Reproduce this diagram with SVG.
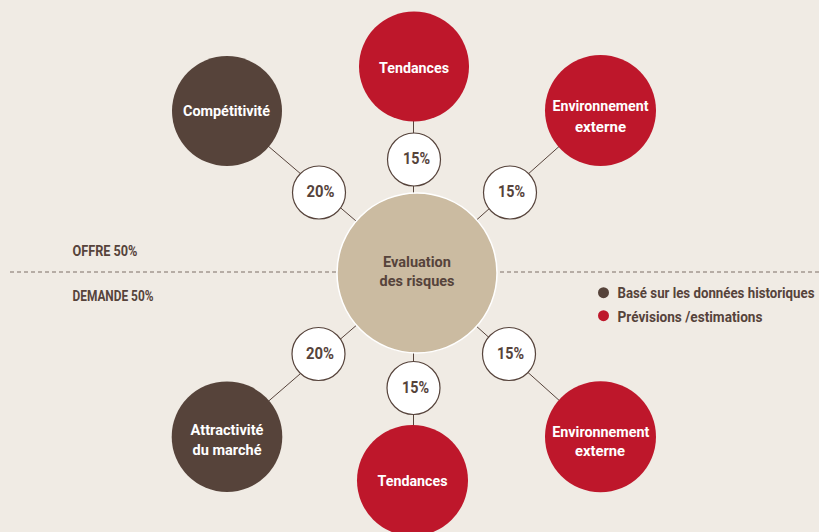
<svg xmlns="http://www.w3.org/2000/svg" width="819" height="532" viewBox="0 0 819 532">
<style>
text{font-family:Roboto,"Liberation Sans",sans-serif;font-weight:bold}
.w{fill:#ffffff;font-size:15px;text-anchor:middle}
.d{fill:#56433b;font-size:15px}
.c{fill:#56433b;font-size:15.5px;text-anchor:middle}
.p{fill:#56433b;font-size:16px;text-anchor:middle}
.brown{fill:#56433a}
.red{fill:#be172b}
.pc{fill:#ffffff;stroke:#56433b;stroke-width:1.2}
.ln{stroke:#56433b;stroke-width:1;fill:none}
</style>
<rect width="819" height="532" fill="#f0ebe4"/>
<line x1="10" y1="272" x2="819" y2="272" stroke="#7d6e67" stroke-width="1" stroke-dasharray="4,3"/>
<g id="connectors">
<line class="ln" x1="413.5" y1="120" x2="413.5" y2="200"/>
<line class="ln" x1="413.5" y1="345" x2="413.5" y2="426"/>
<line class="ln" x1="227" y1="111" x2="417" y2="273"/>
<line class="ln" x1="600" y1="110" x2="417" y2="273"/>
<line class="ln" x1="227" y1="437" x2="417" y2="273"/>
<line class="ln" x1="600" y1="437" x2="417" y2="273"/>
</g>
<g id="center"><circle cx="417" cy="273" r="80" fill="#cbbba1" stroke="#ffffff" stroke-width="1.5"/>
<text class="c" x="417" y="266.5" textLength="68" lengthAdjust="spacingAndGlyphs">Evaluation</text>
<text class="c" x="417" y="286" textLength="75" lengthAdjust="spacingAndGlyphs">des risques</text></g>
<g id="tendances-top"><circle class="red" cx="414" cy="66.5" r="55"/><text class="w" x="414" y="72.5" textLength="70" lengthAdjust="spacingAndGlyphs">Tendances</text></g>
<g id="competitivite"><circle class="brown" cx="227" cy="111" r="55"/><text class="w" x="226.5" y="116" textLength="87" lengthAdjust="spacingAndGlyphs">Compétitivité</text></g>
<g id="env-top"><circle class="red" cx="600.5" cy="110.5" r="55.5"/><text class="w" x="600.5" y="111" textLength="96" lengthAdjust="spacingAndGlyphs">Environnement</text><text class="w" x="600.5" y="131.5" textLength="51" lengthAdjust="spacingAndGlyphs">externe</text></g>
<g id="attractivite"><circle class="brown" cx="227" cy="436.7" r="55.3"/><text class="w" x="227" y="435" textLength="73" lengthAdjust="spacingAndGlyphs">Attractivité</text><text class="w" x="227" y="455" textLength="69" lengthAdjust="spacingAndGlyphs">du marché</text></g>
<g id="tendances-bottom"><circle class="red" cx="412.5" cy="480.5" r="55.5"/><text class="w" x="412.5" y="485.7" textLength="70" lengthAdjust="spacingAndGlyphs">Tendances</text></g>
<g id="env-bottom"><circle class="red" cx="600.5" cy="436.7" r="55.5"/><text class="w" x="600.8" y="437.3" textLength="97" lengthAdjust="spacingAndGlyphs">Environnement</text><text class="w" x="600" y="456" textLength="50" lengthAdjust="spacingAndGlyphs">externe</text></g>
<g id="p-top"><circle class="pc" cx="414" cy="159.5" r="26.5"/><text class="p" x="416.5" y="164.3" textLength="27" lengthAdjust="spacingAndGlyphs">15%</text></g>
<g id="p-topleft"><circle class="pc" cx="319" cy="192.5" r="26.5"/><text class="p" x="320.5" y="197.3" textLength="28" lengthAdjust="spacingAndGlyphs">20%</text></g>
<g id="p-topright"><circle class="pc" cx="510" cy="192.5" r="26.5"/><text class="p" x="511.5" y="197.3" textLength="27" lengthAdjust="spacingAndGlyphs">15%</text></g>
<g id="p-bottomleft"><circle class="pc" cx="318.5" cy="354" r="26.5"/><text class="p" x="320" y="359" textLength="28" lengthAdjust="spacingAndGlyphs">20%</text></g>
<g id="p-bottom"><circle class="pc" cx="413.5" cy="388" r="26.5"/><text class="p" x="415.5" y="393.3" textLength="27" lengthAdjust="spacingAndGlyphs">15%</text></g>
<g id="p-bottomright"><circle class="pc" cx="509" cy="354" r="26.5"/><text class="p" x="510.5" y="359" textLength="27" lengthAdjust="spacingAndGlyphs">15%</text></g>
<g id="labels">
<text class="d" x="72.5" y="256" textLength="65" lengthAdjust="spacingAndGlyphs">OFFRE 50%</text>
<text class="d" x="72.5" y="301" textLength="81" lengthAdjust="spacingAndGlyphs">DEMANDE 50%</text>
</g>
<g id="legend">
<circle class="brown" cx="603.5" cy="292.7" r="5.5"/><text class="d" x="617.5" y="297.7" textLength="197" lengthAdjust="spacingAndGlyphs">Basé sur les données historiques</text>
<circle class="red" cx="603.5" cy="315.7" r="5.5"/><text class="d" x="617.5" y="321.5" textLength="145" lengthAdjust="spacingAndGlyphs">Prévisions /estimations</text>
</g>
</svg>
